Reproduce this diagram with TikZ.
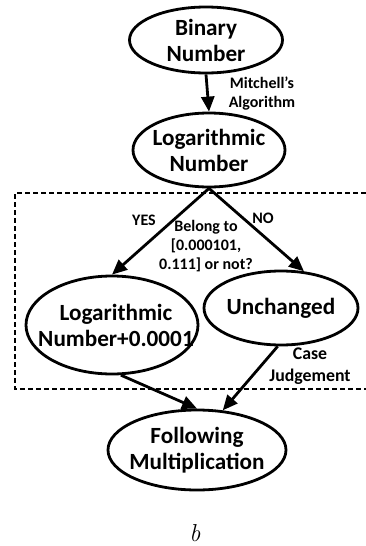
\documentclass[tikz,border=0pt]{standalone}
\usepackage{fontspec}
\setmainfont{Carlito}
\newfontfamily\lmfont{Latin Modern Roman}
\usetikzlibrary{shapes.geometric,arrows.meta}
\tikzset{
  ell/.style={ellipse, draw, line width=2.8pt, inner sep=0pt},
  bigtxt/.style={align=center, font=\fontsize{23.2}{26}\selectfont\bfseries, inner sep=0pt},
  smalltxt/.style={align=center, font=\fontsize{16}{19}\selectfont\bfseries, inner sep=0pt},
  arr/.style={line width=2.8pt, -{Triangle[length=15pt,width=13pt]}},
  dashbox/.style={line width=2.4pt, dash pattern=on 5pt off 3pt}
}
\begin{document}
\begin{tikzpicture}[x=1pt,y=-1pt]
\useasboundingbox (0,0) rectangle (366,546);
% ellipses
\node[ell, minimum width=153pt, minimum height=66pt] (B) at (206,40) {};
\node[bigtxt] (Bt) at (B) {Binary\\Number};
\node[ell, minimum width=152pt, minimum height=74pt] (G) at (209,150) {};
\node[bigtxt] (Gt) at (G) {Logarithmic\\Number};
\node[ell, minimum width=172pt, minimum height=98pt] (L) at (112,325) {};
\node[bigtxt] (Lt) at (116,325) {Logarithmic\\Number+0.0001};
\node[ell, minimum width=154pt, minimum height=74pt] (U) at (281,308) {};
\node[bigtxt] (Ut) at (U) {Unchanged};
\node[ell, minimum width=178pt, minimum height=80pt] (F) at (197,450) {};
\node[bigtxt] (Ft) at (F) {Following\\Multiplication};
% dashed region
\draw[dashbox] (366,193) -- (15,193) -- (15,389) -- (366,389);
% labels
\node[smalltxt] (m) at (262,94) {Mitchell's\\Algorithm};
\node[smalltxt] (yes) at (144,220) {YES};
\node[smalltxt] (no) at (263,218) {NO};
\node[smalltxt] (q) at (206,246) {Belong to\\{}[0.000101,\\0.111] or not?};
\node[smalltxt, font=\fontsize{17.8}{22}\selectfont\bfseries] (cj) at (310,366) {Case\\Judgement};
\node[font=\fontsize{24.5}{28}\lmfont\itshape, inner sep=0pt, anchor=base] (b) at (195,541) {b};
% arrows
\draw[arr] (B.south) -- (G.north);
\draw[arr] (G.south) -- (L.north);
\draw[arr] (G.south) -- (U.58);
\draw[arr] (L.-80) -- (F.north);
\draw[arr] (U.-95) -- (F.57);
\end{tikzpicture}
\end{document}
